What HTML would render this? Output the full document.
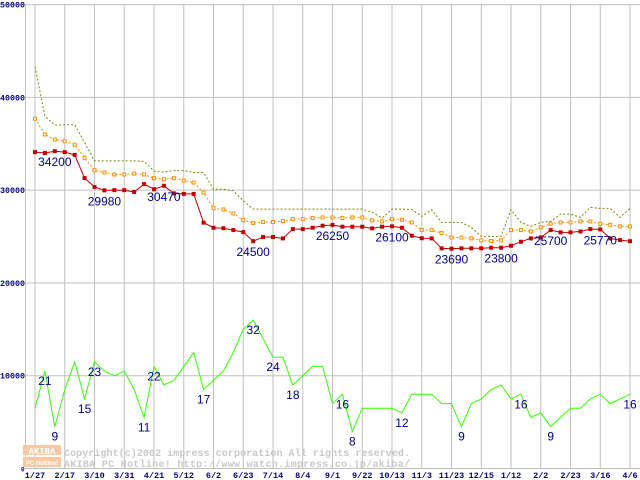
<!DOCTYPE html>
<html><head><meta charset="utf-8"><style>
html,body{margin:0;padding:0;background:#fff;}
svg{display:block;}
</style></head><body>
<svg id="chart" width="640" height="480" xmlns="http://www.w3.org/2000/svg"></svg>
<script>
const xLabels=["1/27","2/17","3/10","3/31","4/21","5/12","6/2","6/23","7/14","8/4","9/1","9/22","10/13","11/3","11/23","12/15","1/12","2/2","2/23","3/16","4/6"];
const yTicks=[0,10000,20000,30000,40000,50000];
const minPrice=[34100,34000,34200,34100,33800,31300,30350,29980,30000,30000,29800,30650,30100,30470,29650,29600,29600,26500,25950,25900,25700,25480,24500,24950,24950,24800,25800,25800,25950,26170,26250,26060,26060,26060,25880,26060,26100,25950,25090,24820,24800,23730,23690,23730,23730,23730,23800,23800,24010,24440,24800,24900,25700,25450,25450,25550,25800,25770,24800,24620,24500];
const avgPrice=[37700,36000,35450,35270,34900,33480,32150,31900,31690,31690,31790,31690,31290,31180,31290,31040,30820,29750,28060,27920,27490,26770,26450,26560,26560,26670,26880,26880,27000,27060,27060,27000,27060,27060,26740,26630,26880,26800,26520,25720,25700,25380,24900,24900,24800,24590,24520,24590,25700,25700,25550,25990,26380,26520,26520,26630,26630,26380,26270,26090,26090];
const maxPrice=[43300,38000,37000,37060,37060,35130,33150,33150,33150,33150,33150,33100,32040,31950,32110,32110,31900,31900,30100,30100,29930,28860,27960,27960,27960,27960,27960,27960,27960,27960,27960,27960,27960,27960,27600,27000,27960,27960,27900,27170,27890,26520,26520,26520,25990,25020,25020,25020,27890,26520,26090,26520,26630,27420,27420,27060,28140,28030,28030,27060,28030];
const shopCount=[13,21,9,17,23,15,23,21,20,21,17,11,22,18,19,22,25,17,19,21,25,30,32,28,24,24,18,20,22,22,14,16,8,13,13,13,13,12,16,16,16,14,14,9,14,15,17,18,15,16,11,12,9,11,13,13,15,16,14,15,16];
const minLabelIdx=[2,7,13,22,30,36,42,47,52,57];
const countLabelIdx=[1,2,5,6,11,12,17,22,24,26,31,32,37,43,49,52,60];

const NS="http://www.w3.org/2000/svg";
const svg=document.getElementById('chart');
const X0=35, DX=9.917, Y0=468.5, YS=463.9/50000;
function xs(i){return X0+i*DX;}
function ys(v){return Y0-v*YS;}
function cy(n){return ys(n*500);}
function mk(tag,attrs,parent){const e=document.createElementNS(NS,tag);for(const k in attrs)e.setAttribute(k,attrs[k]);(parent||svg).appendChild(e);return e;}

const grid=mk('g',{});


yTicks.forEach(t=>{
  const l=mk('line',{x1:25.5,x2:640,y1:ys(t),y2:ys(t),stroke:'#c0c0c0','stroke-width':1},grid);
  
  
});
mk('line',{x1:25.5,x2:25.5,y1:4,y2:469,stroke:'#c0c0c0','stroke-width':1},grid);
for(let i=0;i<61;i++){
  if(i%3===0){
    const l=mk('line',{x1:xs(i),x2:xs(i),y1:4,y2:469,stroke:'#c0c0c0','stroke-width':1},grid);
    
    
  }
}
yTicks.forEach(t=>{
  const attrs={x:t===0?21:0,y:ys(t)+3,'font-family':'Liberation Mono, monospace','font-size':t===0?6:8,'font-weight':'bold',fill:'#000080'};
  if(t!==0){attrs.textLength=25;attrs.lengthAdjust='spacingAndGlyphs';}
  const tx=mk('text',attrs);
  tx.textContent=String(t);
  
  
});
xLabels.forEach((s,k)=>{
  const tx=mk('text',{x:xs(k*3),y:478,'text-anchor':'middle','font-family':'Liberation Mono, monospace','font-size':8.5,'font-weight':'bold',fill:'#000080'});
  tx.textContent=s;
  
  
});

const wm=mk('g',{});


mk('rect',{x:23,y:445,width:38,height:10,fill:'#f8c8a0'},wm);
mk('rect',{x:23,y:457,width:38,height:10,fill:'#f8c8a0'},wm);
let t1=mk('text',{x:42,y:454,'text-anchor':'middle','font-family':'Liberation Mono, monospace','font-size':9,'font-weight':'bold',fill:'#fff'},wm);t1.textContent='AKIBA';
let t2=mk('text',{x:42,y:465,'text-anchor':'middle','font-family':'Liberation Sans, sans-serif','font-size':6,'font-weight':'bold',fill:'#fff'},wm);t2.textContent='PC Hotline!';
let t3=mk('text',{x:64,y:456,'font-family':'Liberation Mono, monospace','font-size':10,'font-weight':'bold',fill:'#c8c8c8',textLength:346},wm);t3.textContent='Copyright(c)2002 impress corporation All rights reserved.';
let t4=mk('text',{x:64,y:467,'font-family':'Liberation Mono, monospace','font-size':10,'font-weight':'bold',fill:'#c8c8c8',textLength:346},wm);t4.textContent='AKIBA PC Hotline!  http://www.watch.impress.co.jp/akiba/';

function path(arr,f){return arr.map((v,i)=>(i?'L':'M')+xs(i).toFixed(1)+' '+f(v).toFixed(1)).join(' ');}
const maxL=mk('path',{d:path(maxPrice,ys),fill:'none',stroke:'#808000','stroke-width':1,'stroke-dasharray':'2 2'});


const avgL=mk('path',{d:path(avgPrice,ys),fill:'none',stroke:'#ff8c00','stroke-width':1,'stroke-dasharray':'2 2'});


avgPrice.forEach((v,i)=>{
  const r=mk('rect',{x:xs(i)-1.5,y:ys(v)-1.5,width:3,height:3,fill:'#fff',stroke:'#ff8c00','stroke-width':1});
  
  
});
const minL=mk('path',{d:path(minPrice,ys),fill:'none',stroke:'#c00000','stroke-width':1});


minPrice.forEach((v,i)=>{
  const r=mk('rect',{x:xs(i)-2,y:ys(v)-2,width:4,height:4,fill:'#c00000'});
  
  
});
const cntL=mk('path',{d:path(shopCount,cy),fill:'none',stroke:'#33ff00','stroke-width':1});



minLabelIdx.forEach(i=>{
  const tx=mk('text',{x:xs(i),y:ys(minPrice[i])+15,'text-anchor':'middle','font-family':'Liberation Sans, sans-serif','font-size':12,fill:'#000080'});
  tx.textContent=String(minPrice[i]);
  
  
});
countLabelIdx.forEach(i=>{
  const tx=mk('text',{x:xs(i),y:cy(shopCount[i])+14,'text-anchor':'middle','font-family':'Liberation Sans, sans-serif','font-size':12,fill:'#000080'});
  tx.textContent=String(shopCount[i]);
  
  
});
</script>
</body></html>
